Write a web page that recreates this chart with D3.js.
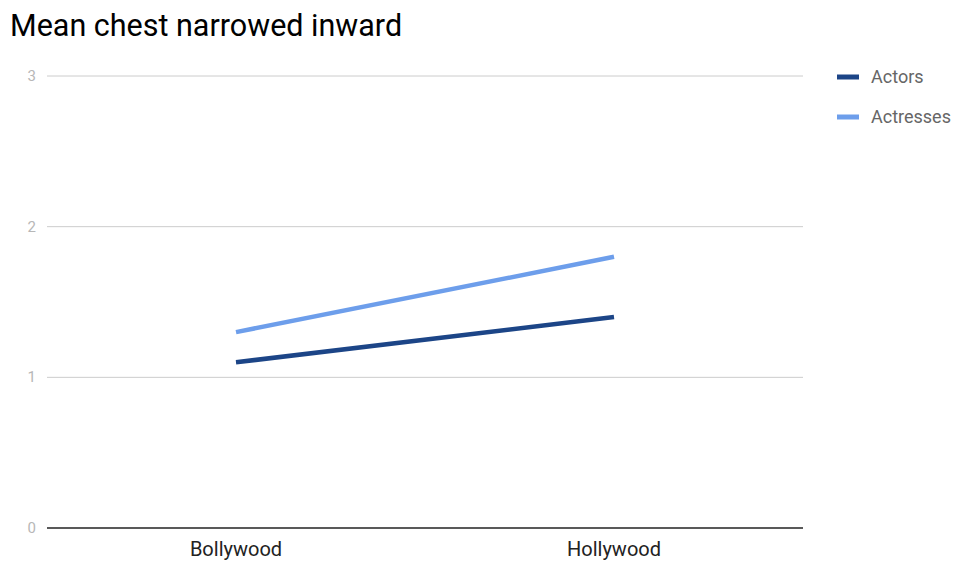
<!DOCTYPE html>
<html><head><meta charset="utf-8">
<script src="https://cdn.jsdelivr.net/npm/d3@7"></script>
<style>body{margin:0;background:#fff;font-family:Roboto,"Noto Sans",sans-serif;}</style>
</head><body>
<svg id="c" width="954" height="562"></svg>
<script>
const categories = ["Bollywood", "Hollywood"];
const seriesNames = ["Actors", "Actresses"];
const actors = [1.1, 1.4];
const actresses = [1.3, 1.8];
const yTicks = [0, 1, 2, 3];
const colors = ["#1c4587", "#6d9eeb"];

(function () {
const svg = d3.select("#c");
const pLeft = 47, pRight = 803, pTop = 76, pBottom = 528;
const x = d3.scalePoint().domain(categories).range([pLeft, pRight]).padding(0.5);
const y = d3.scaleLinear().domain([0, 3]).range([pBottom, pTop]);

svg.append("text").attr("x", 10).attr("y", 36).attr("font-size", 30.5).attr("fill", "#000")
  .text("Mean chest narrowed inward");

svg.append("g").selectAll("line").data(yTicks.filter(d => d !== 0)).join("line")
  .attr("x1", pLeft).attr("x2", pRight).attr("y1", d => y(d)).attr("y2", d => y(d))
  .attr("stroke", "#cccccc").attr("stroke-width", 1);
svg.append("g").selectAll("text").data(yTicks).join("text")
  .attr("x", 36).attr("y", d => y(d) + 5).attr("text-anchor", "end")
  .attr("font-size", 15).attr("fill", "#b7b7b7").text(d => d);
svg.append("line").attr("x1", pLeft).attr("x2", pRight).attr("y1", y(0)).attr("y2", y(0))
  .attr("stroke", "#222").attr("stroke-width", 1.3);
svg.append("g").selectAll("text").data(categories).join("text")
  .attr("x", d => x(d)).attr("y", 556).attr("text-anchor", "middle")
  .attr("font-size", 20).attr("fill", "#222").text(d => d);

const series = [actors, actresses];
const line = d3.line().x((d, i) => x(categories[i])).y(d => y(d));
series.forEach((s, i) => {
  svg.append("path").datum(s).attr("d", line).attr("fill", "none")
    .attr("stroke", colors[i]).attr("stroke-width", 4.5).attr("stroke-linecap", "butt");
});

const lg = svg.append("g");
seriesNames.forEach((n, i) => {
  const yy = 77 + i * 40;
  lg.append("line").attr("x1", 837).attr("x2", 859).attr("y1", yy).attr("y2", yy)
    .attr("stroke", colors[i]).attr("stroke-width", 5);
  lg.append("text").attr("x", 871).attr("y", yy + 6).attr("font-size", 18)
    .attr("fill", "#666").text(n);
});
})();
</script>
</body></html>
